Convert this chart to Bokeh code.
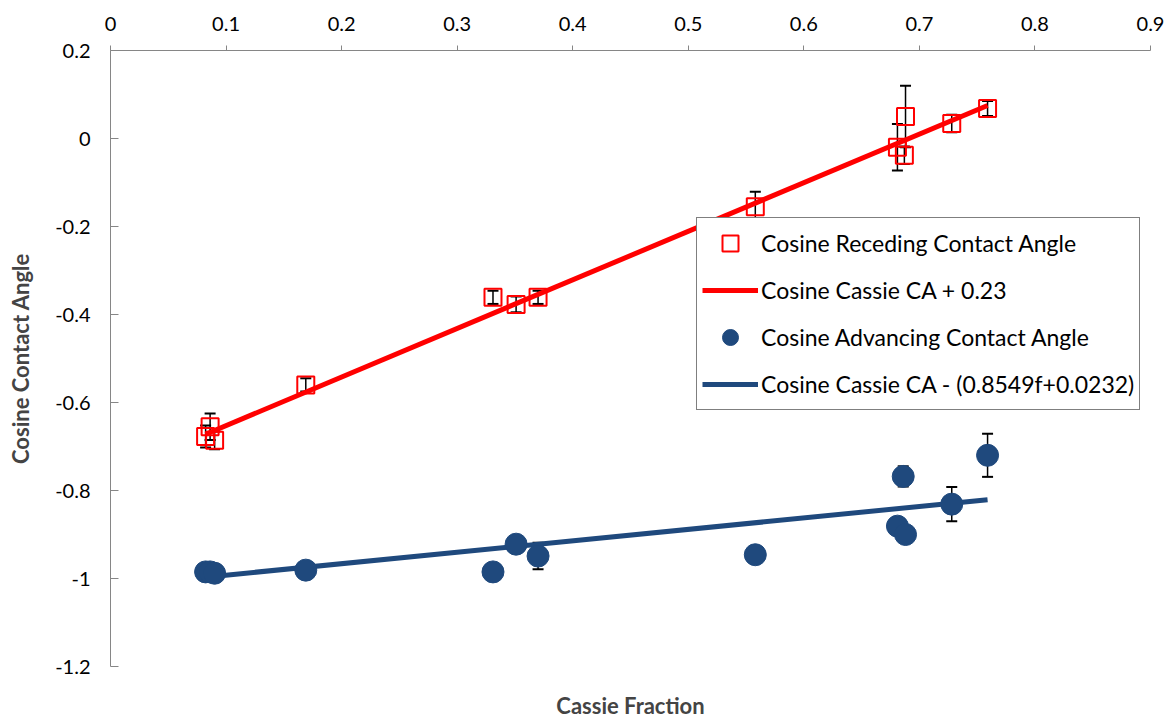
from bokeh.plotting import figure
from bokeh.models import (ColumnDataSource, Range1d, LinearAxis, FixedTicker, Whisker,
                          TeeHead, Legend, LegendItem)
from bokeh.embed import file_html
from bokeh.resources import INLINE

# ---------------- data ----------------
cassie_fraction = [0.0862, 0.0823, 0.0901, 0.169, 0.331, 0.351, 0.370,
                   0.558, 0.688, 0.681, 0.687, 0.728, 0.759]
receding_cos = [-0.655, -0.677, -0.686, -0.560, -0.361, -0.377, -0.361,
                -0.155, 0.050, -0.020, -0.038, 0.034, 0.068]
receding_err = [0.03, 0.025, 0.02, 0.015, 0.015, 0.018, 0.015,
                0.034, 0.07, 0.053, 0.02, 0.02, 0.017]

advancing_x = [0.0823, 0.0862, 0.0901, 0.169, 0.331, 0.351, 0.370,
               0.558, 0.686, 0.681, 0.688, 0.728, 0.759]
advancing_cos = [-0.985, -0.985, -0.988, -0.981, -0.985, -0.922, -0.949,
                 -0.946, -0.768, -0.881, -0.900, -0.831, -0.720]
advancing_err = [0.01, 0.01, 0.01, 0.01, 0.01, 0.01, 0.03,
                 0.01, 0.023, 0.02, 0.01, 0.039, 0.049]

receding_fit_x = [0.0823, 0.759]
receding_fit_y = [-0.672, 0.075]
advancing_fit_x = [0.0823, 0.759]
advancing_fit_y = [-0.997, -0.821]

x_ticks = [0, 0.1, 0.2, 0.3, 0.4, 0.5, 0.6, 0.7, 0.8, 0.9]
x_tick_labels = ["0", "0.1", "0.2", "0.3", "0.4", "0.5", "0.6", "0.7", "0.8", "0.9"]
y_ticks = [0.2, 0.0, -0.2, -0.4, -0.6, -0.8, -1.0, -1.2]
y_tick_labels = ["0.2", "0", "-0.2", "-0.4", "-0.6", "-0.8", "-1", "-1.2"]

legend_labels = ["Cosine Receding Contact Angle", "Cosine Cassie CA + 0.23",
                 "Cosine Advancing Contact Angle", "Cosine Cassie CA - (0.8549f+0.0232)"]

RED = "#FF0000"
BLUE = "#1F497D"
FONT = "Lato"
AXIS_GRAY = "#868686"

rec_src = ColumnDataSource(dict(
    x=cassie_fraction, y=receding_cos,
    upper=[v + e for v, e in zip(receding_cos, receding_err)],
    lower=[v - e for v, e in zip(receding_cos, receding_err)]))
adv_src = ColumnDataSource(dict(
    x=advancing_x, y=advancing_cos,
    upper=[v + e for v, e in zip(advancing_cos, advancing_err)],
    lower=[v - e for v, e in zip(advancing_cos, advancing_err)]))

p = figure(width=1172, height=721, output_backend="svg", toolbar_location=None,
           x_range=Range1d(0, 0.9), y_range=Range1d(-1.2, 0.2),
           x_axis_location="above", min_border_left=110, min_border_right=22,
           min_border_top=50, min_border_bottom=52)
p.outline_line_color = None
p.xgrid.visible = False
p.ygrid.visible = False
p.background_fill_color = "white"
p.border_fill_color = "white"

# top x axis
xa = p.xaxis[0]
xa.ticker = FixedTicker(ticks=x_ticks)
xa.major_label_overrides = {t: l for t, l in zip(x_ticks, x_tick_labels)}
xa.minor_tick_line_color = None
xa.major_tick_in = 0
xa.major_tick_out = 5
xa.axis_line_color = AXIS_GRAY
xa.major_tick_line_color = AXIS_GRAY
xa.major_label_text_font = FONT
xa.major_label_text_font_size = "20px"
xa.major_label_text_color = "black"
xa.major_label_standoff = 15

# left y axis
ya = p.yaxis[0]
ya.ticker = FixedTicker(ticks=y_ticks)
ya.major_label_overrides = {t: l for t, l in zip(y_ticks, y_tick_labels)}
ya.minor_tick_line_color = None
ya.major_tick_in = 8
ya.major_tick_out = 0
ya.axis_line_color = AXIS_GRAY
ya.major_tick_line_color = AXIS_GRAY
ya.major_label_text_font = FONT
ya.major_label_text_font_size = "20px"
ya.major_label_text_color = "black"
ya.major_label_standoff = 20
ya.axis_label = "Cosine Contact Angle"
ya.axis_label_text_font = FONT
ya.axis_label_text_font_size = "22px"
ya.axis_label_text_font_style = "bold"
ya.axis_label_standoff = 18

# bottom axis used only for its label
bx = LinearAxis(axis_label="Cassie Fraction", ticker=FixedTicker(ticks=[]),
                axis_line_color=None, major_tick_line_color=None,
                minor_tick_line_color=None, major_label_text_font_size="0px",
                axis_label_text_font=FONT, axis_label_text_font_size="22px",
                axis_label_text_font_style="bold", axis_label_standoff=25)
p.add_layout(bx, "below")

# error bars
for src in (rec_src, adv_src):
    w = Whisker(source=src, base="x", upper="upper", lower="lower",
                line_color="black", line_width=1.5,
                upper_head=TeeHead(size=11, line_color="black", line_width=2),
                lower_head=TeeHead(size=11, line_color="black", line_width=2))
    p.add_layout(w)

r_line = p.line(receding_fit_x, receding_fit_y, line_color=RED, line_width=5)
b_line = p.line(advancing_fit_x, advancing_fit_y, line_color=BLUE, line_width=5)
r_pts = p.scatter("x", "y", source=rec_src, marker="square", size=17,
                  fill_color=None, line_color=RED, line_width=2)
b_pts = p.scatter("x", "y", source=adv_src, marker="circle", size=22,
                  fill_color=BLUE, line_color=BLUE)

legend = Legend(items=[
    LegendItem(label=legend_labels[0], renderers=[r_pts]),
    LegendItem(label=legend_labels[1], renderers=[r_line]),
    LegendItem(label=legend_labels[2], renderers=[b_pts]),
    LegendItem(label=legend_labels[3], renderers=[b_line]),
], location=(586, 256))
legend.border_line_color = "black"
legend.border_line_width = 1
legend.background_fill_color = "white"
legend.background_fill_alpha = 1
legend.label_text_font = FONT
legend.label_text_font_size = "23px"
legend.label_text_color = "black"
legend.glyph_width = 56
legend.glyph_height = 40
legend.label_height = 24
legend.spacing = 7
legend.padding = 5
legend.margin = 0
legend.label_standoff = 3
p.add_layout(legend, "center")

open("out.html", "w").write(file_html(p, INLINE))
